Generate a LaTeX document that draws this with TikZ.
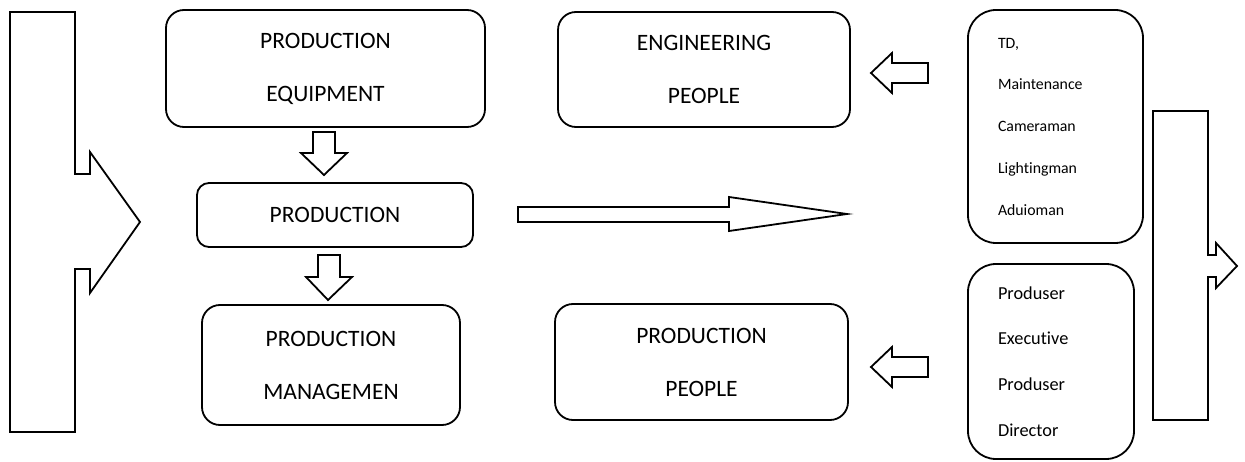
\documentclass[tikz,border=0pt]{standalone}
\usepackage{fontspec}
\setmainfont{Carlito}[Ligatures=NoCommon]
\begin{document}
\begin{tikzpicture}[x=1pt,y=-1pt,
  outline/.style={draw=black, line width=1.8pt, line join=miter, fill=white},
  box/.style={outline, rounded corners=#1, inner sep=0pt, align=center,
    font=\fontsize{23.5}{53}\selectfont},
  box/.default=18pt,
  listbox/.style={outline, rounded corners=28pt, inner ysep=0pt, inner xsep=30pt,
    align=left},
]
\fill[white] (0,0) rectangle (1245,462);
\useasboundingbox (0,0) rectangle (1245,462);

% bracket arrows at the two sides
\draw[outline] (10,12) -- (75,12) -- (75,174) -- (90,174) -- (90,152) -- (140,222)
  -- (90,293) -- (90,269) -- (75,269) -- (75,432) -- (10,432) -- cycle;
\draw[outline] (1153,111) -- (1208,111) -- (1208,255) -- (1216,255) -- (1216,243)
  -- (1237,266) -- (1216,288) -- (1216,277) -- (1208,277) -- (1208,420) -- (1153,420) -- cycle;

% left column
\node[box, minimum width=319pt, minimum height=117pt] (equip) at (325.5,68.5)
  {PRODUCTION\\EQUIPMENT};
\node[box=12pt, minimum width=276pt, minimum height=64pt] (prod) at (335,215)
  {PRODUCTION};
\node[box, minimum width=258pt, minimum height=120pt] (mgmt) at (331,365)
  {PRODUCTION\\MANAGEMEN};

% middle column
\node[box, minimum width=292pt, minimum height=115pt] (eng) at (704,69.5)
  {ENGINEERING\\PEOPLE};
\node[box, minimum width=293pt, minimum height=116pt] (ppl) at (701.5,362)
  {PRODUCTION\\PEOPLE};

% right column
\node[listbox, text width=115pt, minimum height=233pt,
  font=\fontsize{15.8}{41.75}\selectfont] (crew) at (1055.5,126.5)
  {TD,\\Maintenance\\Cameraman\\Lightingman\\Aduioman};
\node[listbox, text width=106pt, minimum height=195pt,
  font=\fontsize{18.3}{45.7}\selectfont] (lead) at (1051,361.5)
  {Produser\\Executive\\Produser\\Director};

% block arrows between the boxes
\draw[outline] (313,132) -- (335,132) -- (335,153) -- (347,153) -- (324,175)
  -- (301,153) -- (313,153) -- cycle;
\draw[outline] (318,255) -- (340,255) -- (340,277) -- (352,277) -- (328,300)
  -- (306,277) -- (318,277) -- cycle;
\draw[outline] (518,207) -- (729,207) -- (729,197) -- (847,214) -- (729,231)
  -- (729,222) -- (518,222) -- cycle;
\draw[outline] (928,63) -- (892,63) -- (892,53) -- (871,73) -- (892,93)
  -- (892,83) -- (928,83) -- cycle;
\draw[outline] (928,357) -- (892,357) -- (892,347) -- (871,367) -- (892,387)
  -- (892,377) -- (928,377) -- cycle;
\end{tikzpicture}
\end{document}
